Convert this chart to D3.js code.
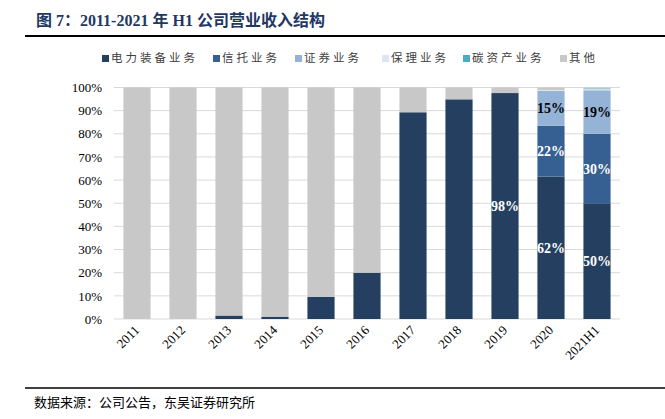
<!DOCTYPE html>
<html>
<head>
<meta charset="utf-8">
<script src="https://cdn.jsdelivr.net/npm/d3@7"></script>
<style>
  body { margin: 0; background: #fff; }
  svg { display: block; }
</style>
</head>
<body>
<script>
// 类别与各业务占比（%）
var years = ["2011", "2012", "2013", "2014", "2015", "2016", "2017", "2018", "2019", "2020", "2021H1"];
var seriesNames = ["电力装备业务", "信托业务", "证券业务", "保理业务", "碳资产业务", "其他"];
var power      = [0, 0, 1.5, 1, 9.6, 20, 89.3, 94.9, 97.6, 61.5, 50];
var trust      = [0, 0, 0, 0, 0, 0, 0, 0, 0, 22, 30];
var securities = [0, 0, 0, 0, 0, 0, 0, 0, 0, 15, 18.8];
var factoring  = [0, 0, 0, 0, 0, 0, 0, 0, 0, 0.4, 0.5];
var carbon     = [0, 0, 0, 0, 0, 0, 0, 0, 0, 0, 0.3];
var other      = [100, 100, 98.5, 99, 90.4, 80, 10.7, 5.1, 2.4, 1.1, 0.4];
var yTicks = [0, 10, 20, 30, 40, 50, 60, 70, 80, 90, 100];
// 柱内标签
var labels = [
    {year: "2019", series: 0, text: "98%"},
    {year: "2020", series: 0, text: "62%"},
    {year: "2020", series: 1, text: "22%"},
    {year: "2020", series: 2, text: "15%"},
    {year: "2021H1", series: 0, text: "50%"},
    {year: "2021H1", series: 1, text: "30%"},
    {year: "2021H1", series: 2, text: "19%"}
];

var colors = ["#243F60", "#376092", "#95B3D7", "#DCE6F2", "#4BACC6", "#C8C8C8"];
var labelColors = ["#fff", "#fff", "#000"];

var allSeries = [power, trust, securities, factoring, carbon, other];
var table = years.map(function (y, i) {
    var row = {year: y};
    seriesNames.forEach(function (s, k) { row[s] = allSeries[k][i]; });
    return row;
});
var stacked = d3.stack().keys(seriesNames)(table);

var W = 665, H = 419;
var svg = d3.select("body").append("svg").attr("width", W).attr("height", H);

// 标题
svg.append("text")
    .attr("x", 36).attr("y", 26)
    .style("font-family", "Liberation Serif, Noto Sans CJK SC")
    .attr("font-weight", "bold")
    .attr("font-size", 16)
    .attr("fill", "#1F3864")
    .text("图 7：2011-2021 年 H1 公司营业收入结构");
svg.append("line")
    .attr("x1", 25).attr("x2", W).attr("y1", 36).attr("y2", 36)
    .attr("stroke", "#000").attr("stroke-width", 2);

var x = d3.scaleBand().domain(years).range([114, 620]).paddingInner(0.41).paddingOuter(0.205);
var y = d3.scaleLinear().domain([0, 100]).range([319, 87.5]);

// 网格线
svg.append("g").selectAll("line").data(yTicks).enter().append("line")
    .attr("x1", 114).attr("x2", 620)
    .attr("y1", function (d) { return y(d); })
    .attr("y2", function (d) { return y(d); })
    .attr("stroke", "#D9D9D9").attr("stroke-width", 1);

// y 轴
var yAxis = svg.append("g")
    .attr("transform", "translate(106,0)")
    .call(d3.axisLeft(y).tickValues(yTicks).tickSize(0).tickPadding(4)
        .tickFormat(function (d) { return d + "%"; }));
yAxis.attr("font-family", null).attr("font-size", null);
yAxis.select(".domain").remove();
yAxis.selectAll("text")
    .style("font-family", "Liberation Serif")
    .style("font-size", "13px")
    .attr("fill", "#000");

// 堆叠柱
svg.append("g").selectAll("g").data(stacked).enter().append("g")
    .attr("fill", function (d, i) { return colors[i]; })
    .selectAll("rect").data(function (d) { return d; }).enter().append("rect")
    .attr("x", function (d) { return x(d.data.year); })
    .attr("width", x.bandwidth())
    .attr("y", function (d) { return y(d[1]); })
    .attr("height", function (d) { return Math.max(0, y(d[0]) - y(d[1])); });

// 柱内标签
svg.append("g").selectAll("text").data(labels).enter().append("text")
    .attr("x", function (d) { return x(d.year) + x.bandwidth() / 2; })
    .attr("y", function (d) {
        var i = years.indexOf(d.year);
        var seg = stacked[d.series][i];
        return (y(seg[0]) + y(seg[1])) / 2 + 5;
    })
    .attr("text-anchor", "middle")
    .style("font-family", "Liberation Serif")
    .attr("font-weight", "bold")
    .attr("font-size", 14)
    .attr("fill", function (d) { return labelColors[d.series]; })
    .text(function (d) { return d.text; });

// x 轴标签
svg.append("g").selectAll("text").data(years).enter().append("text")
    .attr("transform", function (d) {
        return "translate(" + (x(d) + x.bandwidth() / 2 + 3) + ",331) rotate(-45)";
    })
    .attr("text-anchor", "end")
    .style("font-family", "Liberation Serif")
    .attr("font-size", 13)
    .attr("fill", "#000")
    .text(function (d) { return d; });

// 图例
var legendX = [102, 213, 295, 382, 463, 560];
var legend = svg.append("g").selectAll("g").data(seriesNames).enter().append("g")
    .attr("transform", function (d, i) { return "translate(" + legendX[i] + ",62)"; });
legend.append("rect")
    .attr("x", 0).attr("y", -7).attr("width", 7).attr("height", 7)
    .attr("fill", function (d, i) { return colors[i]; });
legend.append("text")
    .attr("x", 9).attr("y", 0)
    .style("font-family", "Noto Sans CJK SC")
    .attr("font-size", 11.5)
    .attr("letter-spacing", 3)
    .attr("fill", "#404040")
    .text(function (d) { return d; });

// 数据来源
svg.append("line")
    .attr("x1", 25).attr("x2", W).attr("y1", 388).attr("y2", 388)
    .attr("stroke", "#000").attr("stroke-width", 1.5);
svg.append("text")
    .attr("x", 34).attr("y", 407)
    .style("font-family", "Noto Sans CJK SC")
    .attr("font-size", 13)
    .attr("fill", "#000")
    .text("数据来源：公司公告，东吴证券研究所");
</script>
</body>
</html>
